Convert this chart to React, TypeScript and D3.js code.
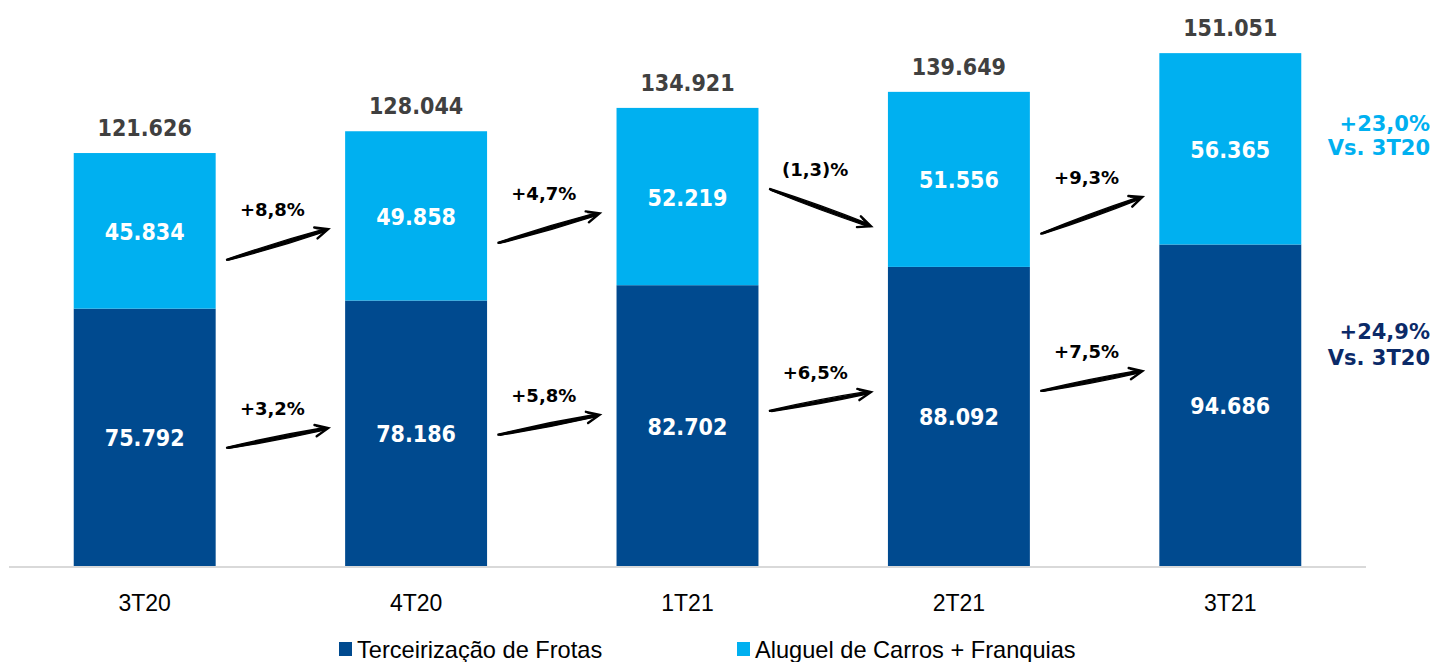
import React from "react";
import * as d3 from "d3";

const categories = ["3T20", "4T20", "1T21", "2T21", "3T21"];
const frotas = [75792, 78186, 82702, 88092, 94686];
const aluguel = [45834, 49858, 52219, 51556, 56365];
const totals = [121626, 128044, 134921, 139649, 151051];
const seriesNames = ["Terceirização de Frotas", "Aluguel de Carros + Franquias"];
// growth annotations between consecutive quarters (start/end anchor in data units)
const aluguelGrowth = ["+8,8%", "+4,7%", "(1,3)%", "+9,3%"];
const aluguelArrowFrom = [90100, 95100, 111000, 97800];
const aluguelArrowTo = [99200, 103900, 100100, 108700];
const frotasGrowth = ["+3,2%", "+5,8%", "+6,5%", "+7,5%"];
const frotasArrowFrom = [34750, 38600, 45600, 51500];
const frotasArrowTo = [40600, 44500, 51200, 57400];
const yoyAluguel = ["+23,0%", "Vs. 3T20"];
const yoyFrotas = ["+24,9%", "Vs. 3T20"];

const W = 1435;
const H = 662;
const DARK = "#004a8f";
const LIGHT = "#00b0f0";
const NAVY = "#0b2a68";
const fmt = (v: number) => d3.format(",")(v).replace(/,/g, ".");

const x = d3
  .scaleBand<string>()
  .domain(categories)
  .range([9, 1366])
  .paddingInner(0.477)
  .paddingOuter(0.2385);
const y = d3.scaleLinear().domain([0, 166700]).range([566, 0]);

const BOLD = "'DejaVu Sans Condensed', 'DejaVu Sans', Verdana, sans-serif";
const ARROWF = "'DejaVu Sans', Verdana, sans-serif";
const REG = "'Liberation Sans', Arial, sans-serif";

function SketchArrow({ x0, y0, x1, y1 }: { x0: number; y0: number; x1: number; y1: number }) {
  const dx = x1 - x0;
  const dy = y1 - y0;
  const len = Math.hypot(dx, dy);
  const ux = dx / len;
  const uy = dy / len;
  const nx = -uy;
  const ny = ux;
  const offs = [-1.8, -1.0, -0.3, 0.4, 1.1, 1.8, 0.0, -0.6];
  const lines = offs.map((o, i) => {
    const sx = x0 + nx * o * 0.4 + ux * (i % 3);
    const sy = y0 + ny * o * 0.4 + uy * (i % 3);
    const ex = x1 - ux * 3 + nx * o * 0.7;
    const ey = y1 - uy * 3 + ny * o * 0.7;
    const mx = (sx + ex) / 2 + nx * o * 1.0;
    const my = (sy + ey) / 2 + ny * o * 1.0;
    return `M${sx},${sy}Q${mx},${my} ${ex},${ey}`;
  });
  const hl = 14;
  const ang = (24 * Math.PI) / 180;
  const bx = -ux;
  const by = -uy;
  const rot = (a: number) => [bx * Math.cos(a) - by * Math.sin(a), bx * Math.sin(a) + by * Math.cos(a)];
  const [ax, ay] = rot(ang);
  const [cx, cy] = rot(-ang);
  return (
    <g fill="none" stroke="#000" strokeLinecap="round">
      {lines.map((d, i) => (
        <path key={i} d={d} strokeWidth={i < 6 ? 1.3 : 1} />
      ))}
      <path
        d={`M${x1 + ax * hl},${y1 + ay * hl}L${x1},${y1}L${x1 + cx * hl},${y1 + cy * hl}`}
        strokeWidth={2.4}
        strokeLinejoin="miter"
      />
      <path
        d={`M${x1 + ax * (hl - 2)},${y1 + ay * (hl - 2) + 1}L${x1 - 1},${y1 + 0.5}`}
        strokeWidth={1.2}
      />
    </g>
  );
}

function Growth({
  i,
  from,
  to,
  label,
}: {
  i: number;
  from: number;
  to: number;
  label: string;
}) {
  const bw = x.bandwidth();
  const x0 = (x(categories[i]) as number) + bw + 11;
  const x1 = (x(categories[i + 1]) as number) - 17;
  const y0 = y(from);
  const y1 = y(to);
  const ly = Math.min(y0, y1) - 13;
  return (
    <g>
      <SketchArrow x0={x0} y0={y0} x1={x1} y1={y1} />
      <text
        x={(x0 + x1) / 2 - 5}
        y={ly}
        textAnchor="middle"
        fontFamily={ARROWF}
        fontWeight="bold"
        fontSize={18}
        fill="#000"
      >
        {label}
      </text>
    </g>
  );
}

export default function App() {
  const bw = x.bandwidth();
  return (
    <svg
      width={W}
      height={H}
      viewBox={`0 0 ${W} ${H}`}
      style={{ position: "absolute", left: 0, top: 0, background: "#fff" }}
    >
      {categories.map((c, i) => {
        const bx = x(c) as number;
        const yDark = y(frotas[i]);
        const yTop = y(frotas[i] + aluguel[i]);
        return (
          <g key={c}>
            <rect x={bx} y={yDark} width={bw} height={y(0) - yDark} fill={DARK} />
            <rect x={bx} y={yTop} width={bw} height={yDark - yTop} fill={LIGHT} />
            <text
              x={bx + bw / 2}
              y={(yDark + y(0)) / 2 + 9}
              textAnchor="middle"
              fontFamily={BOLD}
              fontWeight="bold"
              fontSize={23}
              fill="#fff"
            >
              {fmt(frotas[i])}
            </text>
            <text
              x={bx + bw / 2}
              y={(yDark + yTop) / 2 + 9}
              textAnchor="middle"
              fontFamily={BOLD}
              fontWeight="bold"
              fontSize={23}
              fill="#fff"
            >
              {fmt(aluguel[i])}
            </text>
            <text
              x={bx + bw / 2}
              y={y(totals[i]) - 17}
              textAnchor="middle"
              fontFamily={BOLD}
              fontWeight="bold"
              fontSize={23}
              fill="#404040"
            >
              {fmt(totals[i])}
            </text>
            <text
              x={bx + bw / 2}
              y={611}
              textAnchor="middle"
              fontFamily={REG}
              fontSize={23}
              fill="#000"
            >
              {c}
            </text>
          </g>
        );
      })}
      <line x1={9} x2={1366} y1={567} y2={567} stroke="#d9d9d9" strokeWidth={2} />

      {aluguelGrowth.map((g, i) => (
        <Growth key={"a" + i} i={i} from={aluguelArrowFrom[i]} to={aluguelArrowTo[i]} label={g} />
      ))}
      {frotasGrowth.map((g, i) => (
        <Growth key={"f" + i} i={i} from={frotasArrowFrom[i]} to={frotasArrowTo[i]} label={g} />
      ))}

      <g fontFamily={ARROWF} fontWeight="bold" fontSize={21} textAnchor="end">
        <text x={1430} y={131} fill={LIGHT}>{yoyAluguel[0]}</text>
        <text x={1430} y={155} fill={LIGHT}>{yoyAluguel[1]}</text>
        <text x={1430} y={339} fill={NAVY}>{yoyFrotas[0]}</text>
        <text x={1430} y={365} fill={NAVY}>{yoyFrotas[1]}</text>
      </g>

      <g fontFamily={REG} fontSize={23.6} fill="#000">
        <rect x={339} y={642} width={13} height={14} fill={DARK} />
        <text x={357} y={658}>{seriesNames[0]}</text>
        <rect x={737} y={642} width={13} height={14} fill={LIGHT} />
        <text x={755} y={658}>{seriesNames[1]}</text>
      </g>
    </svg>
  );
}
